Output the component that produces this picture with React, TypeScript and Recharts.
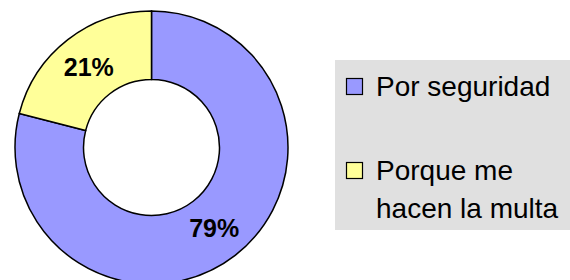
import React from 'react';
import { PieChart, Pie, Cell, Legend } from 'recharts';

const categories = ['Por seguridad', 'Porque me hacen la multa'];
const values = [79, 21];
const labels = ['79%', '21%'];
const legendLines = [['Por seguridad'], ['Porque me', 'hacen la multa']];
const colors = ['#9999FF', '#FFFF99'];

const data = categories.map((name, i) => ({ name, value: values[i], label: labels[i] }));

const RAD = Math.PI / 180;
const FONT = '"Liberation Sans", Arial, Helvetica, sans-serif';

const renderLabel = (props: any) => {
  const { cx, cy, midAngle, innerRadius, outerRadius, index } = props;
  const r = (innerRadius + outerRadius) / 2;
  const x = cx + r * Math.cos(-midAngle * RAD);
  const y = cy + r * Math.sin(-midAngle * RAD);
  return (
    <text x={x} y={y} textAnchor="middle" dominantBaseline="central" fontFamily={FONT} fontWeight="bold" fontSize={25} fill="#000">
      {data[index].label}
    </text>
  );
};

const renderLegend = (props: any) => {
  const payload = props.payload || [];
  return (
    <svg width={235} height={170} style={{ display: 'block' }}>
      <rect x={0} y={0} width={235} height={170} fill="#E0E0E0" />
      {payload.map((p: any, i: number) => {
        const top = i === 0 ? 18 : 102;
        return (
          <g key={i}>
            <rect x={11.5} y={top + 0.5} width={16} height={16} fill={colors[i]} stroke="#000" strokeWidth={1.2} />
            {legendLines[i].map((line, j) => (
              <text key={j} x={41} y={top + 18 + j * 38} fontFamily={FONT} fontSize={28} fill="#000">
                {line}
              </text>
            ))}
          </g>
        );
      })}
    </svg>
  );
};

export default function App() {
  return (
    <div style={{ position: 'absolute', left: 0, top: 0, width: 570, height: 280, background: '#fff' }}>
      <PieChart width={570} height={280} margin={{ top: 0, right: 0, bottom: 0, left: 0 }}>
        <Pie
          data={data}
          dataKey="value"
          nameKey="name"
          cx={151.5}
          cy={147.5}
          innerRadius={68}
          outerRadius={136.5}
          startAngle={90}
          endAngle={-270}
          stroke="#000"
          strokeWidth={1.5}
          label={renderLabel}
          labelLine={false}
          isAnimationActive={false}
        >
          {data.map((d, i) => (
            <Cell key={d.name} fill={colors[i]} />
          ))}
        </Pie>
        <Legend
          content={renderLegend}
          wrapperStyle={{ left: 335, top: 60, width: 235, height: 170 }}
        />
      </PieChart>
    </div>
  );
}
